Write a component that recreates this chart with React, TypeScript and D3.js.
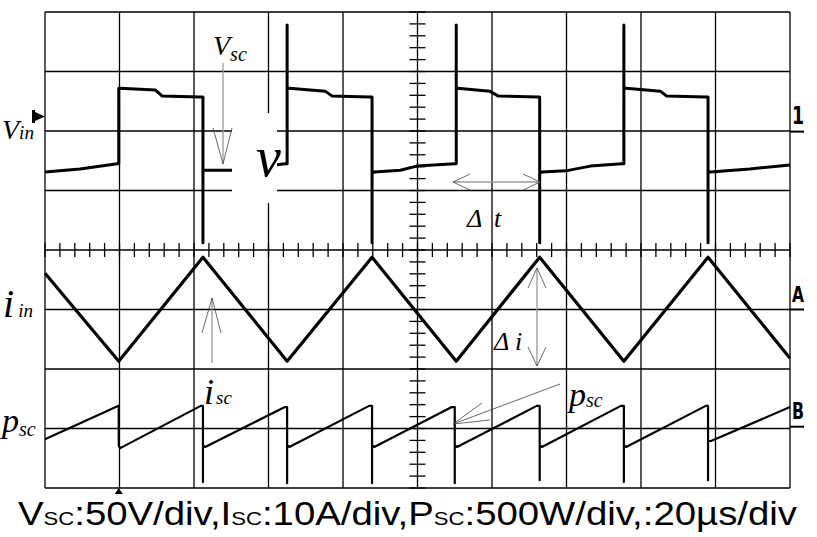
import React from "react";
import * as d3 from "d3";

// Time in divisions (20 µs/div), amplitude in divisions from screen centre
const vinTime = [0, 0.47, 0.97, 0.99, 0.99, 1.01, 1.48, 1.57, 2.08, 2.12, 2.12, 2.12, 2.15, 2.51, 3.09, 3.22, 3.25, 3.25, 3.25, 3.28, 3.76, 3.85, 4.36, 4.39, 4.39, 4.39, 4.42, 4.77, 4.99, 5.5, 5.52, 5.52, 5.52, 5.54, 5.97, 6.08, 6.62, 6.64, 6.64, 6.64, 6.67, 6.99, 7.32, 7.74, 7.77, 7.77, 7.77, 7.8, 8.26, 8.34, 8.87, 8.9, 8.9, 8.9, 8.93, 9.46, 10];
const vinLevel = [1.31, 1.36, 1.45, 1.45, 2.72, 2.72, 2.69, 2.59, 2.57, 2.57, 0.12, 1.34, 1.34, 1.34, 1.43, 1.45, 1.45, 3.78, 2.72, 2.72, 2.67, 2.59, 2.57, 2.57, 0.12, 1.29, 1.31, 1.34, 1.41, 1.45, 1.45, 3.78, 2.72, 2.72, 2.67, 2.59, 2.57, 2.57, 0.12, 1.29, 1.31, 1.33, 1.41, 1.45, 1.45, 3.78, 2.72, 2.72, 2.67, 2.59, 2.57, 2.57, 0.12, 1.31, 1.31, 1.36, 1.43];

const iinTime = [0, 0.99, 2.12, 3.25, 4.39, 5.52, 6.64, 7.77, 8.9, 10];
const iinLevel = [-0.39, -1.87, -0.12, -1.87, -0.12, -1.87, -0.12, -1.87, -0.12, -1.82];

const pscTime = [0, 0.98, 0.99, 0.99, 1.01, 2.09, 2.12, 2.12, 2.12, 2.15, 3.22, 3.25, 3.25, 3.25, 3.28, 4.35, 4.39, 4.39, 4.39, 4.42, 5.46, 5.5, 5.5, 5.5, 5.53, 6.6, 6.64, 6.64, 6.64, 6.67, 7.73, 7.77, 7.77, 7.77, 7.8, 8.87, 8.9, 8.9, 8.9, 8.94, 10];
const pscLevel = [-3.18, -2.62, -2.62, -3.29, -3.33, -2.62, -2.62, -3.9, -3.28, -3.31, -2.64, -2.64, -3.92, -3.28, -3.31, -2.62, -2.62, -3.92, -3.28, -3.31, -2.64, -2.64, -3.92, -3.28, -3.31, -2.62, -2.62, -3.87, -3.28, -3.31, -2.62, -2.62, -3.9, -3.28, -3.31, -2.62, -2.62, -3.87, -3.21, -3.21, -2.64];

const hDivs = [0, 1, 2, 3, 4, 5, 6, 7, 8, 9, 10];
const vDivs = [-4, -3, -2, -1, 0, 1, 2, 3, 4];
const channelMarks = [
  { label: "1", level: 1.99, size: 24 },
  { label: "A", level: -1.0, size: 21 },
  { label: "B", level: -2.97, size: 23 },
];
const bottomParts = [
  { t: "V", small: false },
  { t: "SC", small: true },
  { t: ":50V/div,I", small: false },
  { t: "SC", small: true },
  { t: ":10A/div,P", small: false },
  { t: "SC", small: true },
  { t: ":500W/div,:20µs/div", small: false },
];

const W = 817;
const H = 537;
const serif = "'Liberation Serif', 'Times New Roman', serif";
const sans = "'Liberation Sans', Arial, sans-serif";

export default function App() {
  const x = d3.scaleLinear().domain([0, 10]).range([45, 790]);
  const y = d3.scaleLinear().domain([-4, 4]).range([488, 12]);
  const line = (ts: number[], vs: number[]) =>
    d3.line<number>().x((_, i) => x(ts[i])).y((_, i) => y(vs[i]))(ts.map((_, i) => i)) || "";

  const minor = d3.range(-20, 21).map((k) => k / 5);
  const minorT = d3.range(0, 51).map((k) => k / 5);
  const gray = "#9a9a9a";
  const dark = "#444";

  return (
    <svg width={W} height={H} style={{ position: "absolute", left: 0, top: 0, background: "#fff" }}>
      <rect x={0} y={0} width={W} height={H} fill="#fff" />
      {/* grid */}
      {hDivs.map((t) => (
        <line key={"v" + t} x1={x(t)} x2={x(t)} y1={y(4)} y2={y(-4)} stroke="#000" strokeWidth={1.3} />
      ))}
      {vDivs.map((v) => (
        <line key={"h" + v} x1={x(0)} x2={x(10)} y1={y(v)} y2={y(v)} stroke="#000" strokeWidth={1.3} />
      ))}
      {minor.map((v) => (
        <line key={"mt" + v} x1={x(5) - 8} x2={x(5) + 8} y1={y(v)} y2={y(v)} stroke="#000" strokeWidth={1.3} />
      ))}
      {minorT.map((t) => (
        <line key={"mx" + t} x1={x(t)} x2={x(t)} y1={y(0) - 7} y2={y(0) + 7} stroke="#000" strokeWidth={1.3} />
      ))}

      {/* traces */}
      <path d={line(vinTime, vinLevel)} fill="none" stroke="#000" strokeWidth={3} strokeLinejoin="round" />
      <path d={line(iinTime, iinLevel)} fill="none" stroke="#000" strokeWidth={3.2} strokeLinejoin="round" />
      <path d={line(pscTime, pscLevel)} fill="none" stroke="#000" strokeWidth={2.2} strokeLinejoin="round" />

      {/* white patch behind script symbol */}
      <rect x={232} y={113} width={45} height={90} fill="#fff" />
      <text x={256} y={176} fontFamily={serif} fontStyle="italic" fontSize={56}>ν</text>

      {/* left ground marker */}
      <path d="M32,110 L35,110 L35,112 L45,116.5 L35,121 L35,123 L32,123 Z" fill="#000" />
      {/* trigger marker */}
      <path d={`M${x(0.99) - 4},494 L${x(0.99) + 4},494 L${x(0.99)},488 Z`} fill="#000" />

      {/* channel markers on the right */}
      {channelMarks.map((m) => (
        <g key={m.label}>
          <line x1={x(10)} x2={x(10) + 14} y1={y(m.level)} y2={y(m.level)} stroke="#000" strokeWidth={2} />
          <text x={792} y={y(m.level) - 8} fontFamily="'DejaVu Sans', sans-serif" fontWeight="bold" fontSize={m.size}
            textLength={12} lengthAdjust="spacingAndGlyphs">
            {m.label}
          </text>
        </g>
      ))}

      {/* labels */}
      <text x={2} y={139} fontFamily={serif} fontStyle="italic" fontSize={28}>
        V<tspan fontSize={19}>in</tspan>
      </text>
      <text x={3} y={317} fontFamily={serif} fontStyle="italic" fontSize={40}>
        i<tspan fontSize={19} dx={4}>in</tspan>
      </text>
      <text x={2} y={432} fontFamily={serif} fontStyle="italic" fontSize={34}>
        p<tspan fontSize={20} dy={4}>sc</tspan>
      </text>

      {/* Vsc annotation */}
      <text x={213} y={55} fontFamily={serif} fontStyle="italic" fontSize={28}>
        V<tspan fontSize={20} dy={6}>sc</tspan>
      </text>
      <line x1={223} x2={223} y1={63} y2={164} stroke={gray} strokeWidth={1.3} />
      <path d="M213,128 L223,164 L232,128" fill="none" stroke={dark} strokeWidth={0.8} />

      {/* Δt annotation */}
      <line x1={453} x2={540} y1={182} y2={182} stroke={gray} strokeWidth={1.3} />
      <path d="M470,174 L453,182 L470,190 M523,174 L540,182 L523,190" fill="none" stroke={dark} strokeWidth={0.8} />
      <text x={467} y={227} fontFamily={serif} fontStyle="italic" fontSize={26}>Δ</text>
      <text x={494} y={227} fontFamily={serif} fontStyle="italic" fontSize={26}>t</text>

      {/* isc annotation */}
      <line x1={212} x2={212} y1={363} y2={298} stroke={gray} strokeWidth={1.3} />
      <path d="M202,333 L212,298 L221,333" fill="none" stroke={dark} strokeWidth={0.8} />
      <text x={204} y={404} fontFamily={serif} fontStyle="italic" fontSize={36}>
        i<tspan fontSize={19} dx={2}>sc</tspan>
      </text>

      {/* Δi annotation */}
      <line x1={537} x2={537} y1={268} y2={366} stroke={gray} strokeWidth={1.3} />
      <path d="M528,288 L537,268 L546,288 M528,347 L537,366 L546,347" fill="none" stroke={dark} strokeWidth={0.8} />
      <text x={494} y={350} fontFamily={serif} fontStyle="italic" fontSize={26}>Δ</text>
      <text x={515} y={350} fontFamily={serif} fontStyle="italic" fontSize={26}>i</text>

      {/* psc annotation */}
      <path d="M560,384 L453,424 L482,403 M453,424 L490,420" fill="none" stroke={dark} strokeWidth={0.8} />
      <text x={569} y={406} fontFamily={serif} fontStyle="italic" fontSize={34}>
        p<tspan fontSize={20} dy={1}>sc</tspan>
      </text>

      {/* bottom caption */}
      <text x={18} y={525} fontFamily={sans} fontSize={33} textLength={779} lengthAdjust="spacingAndGlyphs">
        {bottomParts.map((p, i) => (
          <tspan key={i} fontSize={p.small ? 19 : 33}>{p.t}</tspan>
        ))}
      </text>
    </svg>
  );
}
